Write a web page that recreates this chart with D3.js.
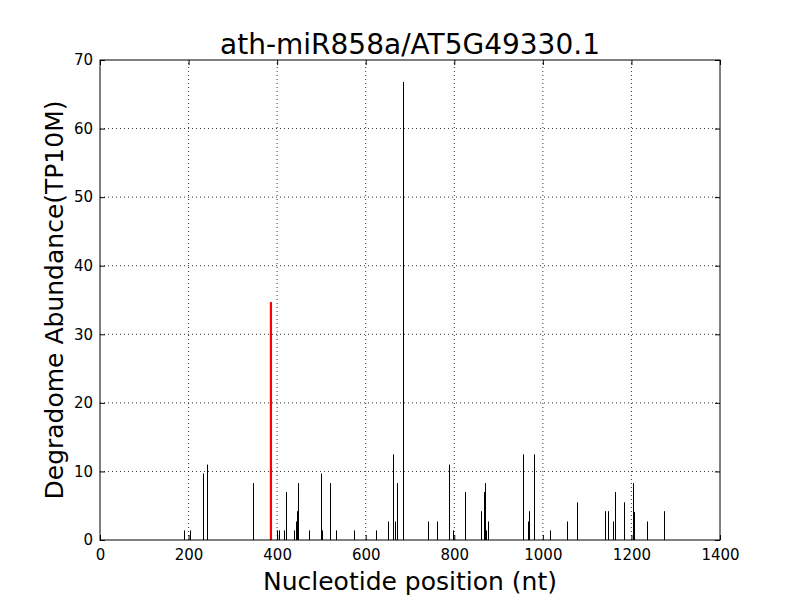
<!DOCTYPE html>
<html lang="en">
<head>
  <meta charset="UTF-8">
  <title>ath-miR858a/AT5G49330.1</title>
  <style>
    body { margin: 0; background: white; }
    svg { display: block; font-family: "DejaVu Sans", sans-serif; }
    .grid line { stroke: #000; stroke-dasharray: 1,3; stroke-width: 0.8; }
  </style>
</head>
<body>
  <svg width="800" height="600"></svg>
  <script src="https://d3js.org/d3.v7.min.js"></script>
  <script>

// cleavage positions (nt) and abundances (TP10M)
const positions = [190, 203, 233, 242, 346, 400, 405, 416, 420, 439, 443, 445, 448, 471,
  500, 502, 520, 534, 574, 624, 651, 662, 667, 671, 685,
  741, 762, 789, 796, 825, 861, 866, 870, 872, 877,
  956, 967, 969, 981, 1017, 1055, 1078, 1141, 1148, 1159, 1164,
  1183, 1204, 1206, 1236, 1274];
const abundances = [1.4, 1.4, 9.7, 11.0, 8.3, 1.4, 1.4, 1.4, 7.0, 1.4, 2.7, 4.2, 8.3, 1.4,
  9.7, 1.4, 8.3, 1.4, 1.4, 1.4, 2.7, 12.5, 2.7, 8.3, 66.8,
  2.7, 2.7, 11.0, 1.4, 7.0, 4.2, 7.0, 8.3, 1.4, 2.7,
  12.5, 2.7, 4.2, 12.5, 1.4, 2.7, 5.5, 4.2, 4.2, 2.7, 7.0,
  5.5, 8.3, 4.1, 2.7, 4.2];

// the miRNA target site
const targetPos = 386;
const targetValue = 34.7;

const xTicks = [0, 200, 400, 600, 800, 1000, 1200, 1400];
const yTicks = [0, 10, 20, 30, 40, 50, 60, 70];

const margin = {top: 60, right: 80, bottom: 60, left: 100};
const width = 800, height = 600;

const svg = d3.select("svg");

const x = d3.scaleLinear().domain([0, 1400]).range([margin.left, width - margin.right]);
const y = d3.scaleLinear().domain([0, 70]).range([height - margin.bottom, margin.top]);

// dotted grid
const grid = svg.append("g").attr("class", "grid");
grid.selectAll(".gx").data(xTicks.slice(1, -1)).join("line")
  .attr("x1", d => x(d)).attr("x2", d => x(d))
  .attr("y1", y(0)).attr("y2", y(70));
grid.selectAll(".gy").data(yTicks.slice(1, -1)).join("line")
  .attr("y1", d => y(d)).attr("y2", d => y(d))
  .attr("x1", x(0)).attr("x2", x(1400));

// bars
svg.append("g").selectAll("line").data(positions).join("line")
  .attr("x1", d => Math.round(x(d)) + 0.5).attr("x2", d => Math.round(x(d)) + 0.5)
  .attr("y1", y(0))
  .attr("y2", (d, i) => y(abundances[i]))
  .attr("stroke", "#000").attr("stroke-width", 1);

svg.append("line")
  .attr("x1", x(targetPos)).attr("x2", x(targetPos))
  .attr("y1", y(0)).attr("y2", y(targetValue))
  .attr("stroke", "red").attr("stroke-width", 2.2);

// axes with inward ticks on all four sides
const tickLen = 5;
const fmt = d3.format("d");
svg.append("g").attr("transform", `translate(0,${y(0)})`)
  .call(d3.axisBottom(x).tickValues(xTicks).tickFormat(fmt).tickSize(-tickLen).tickPadding(9))
  .call(g => g.select(".domain").remove());
svg.append("g").attr("transform", `translate(0,${y(70)})`)
  .call(d3.axisTop(x).tickValues(xTicks).tickSize(-tickLen).tickFormat(""))
  .call(g => g.select(".domain").remove());
svg.append("g").attr("transform", `translate(${x(0)},0)`)
  .call(d3.axisLeft(y).tickValues(yTicks).tickFormat(fmt).tickSize(-tickLen).tickPadding(7))
  .call(g => g.select(".domain").remove());
svg.append("g").attr("transform", `translate(${x(1400)},0)`)
  .call(d3.axisRight(y).tickValues(yTicks).tickSize(-tickLen).tickFormat(""))
  .call(g => g.select(".domain").remove());

svg.selectAll(".tick text")
  .attr("font-size", 15).attr("font-family", "DejaVu Sans, sans-serif").attr("fill", "#000");
svg.selectAll(".tick line").attr("stroke", "#000");

svg.append("rect")
  .attr("x", x(0)).attr("y", y(70))
  .attr("width", x(1400) - x(0)).attr("height", y(0) - y(70))
  .attr("fill", "none").attr("stroke", "#000").attr("stroke-width", 1);

svg.append("text")
  .attr("x", (x(0) + x(1400)) / 2).attr("y", 54)
  .attr("text-anchor", "middle").attr("font-size", 28)
  .text("ath-miR858a/AT5G49330.1");

svg.append("text")
  .attr("x", (x(0) + x(1400)) / 2).attr("y", 590)
  .attr("text-anchor", "middle").attr("font-size", 25)
  .text("Nucleotide position (nt)");

svg.append("text")
  .attr("transform", `translate(63,${(y(0) + y(70)) / 2}) rotate(-90)`)
  .attr("text-anchor", "middle").attr("font-size", 25)
  .text("Degradome Abundance(TP10M)");
  </script>
</body>
</html>
